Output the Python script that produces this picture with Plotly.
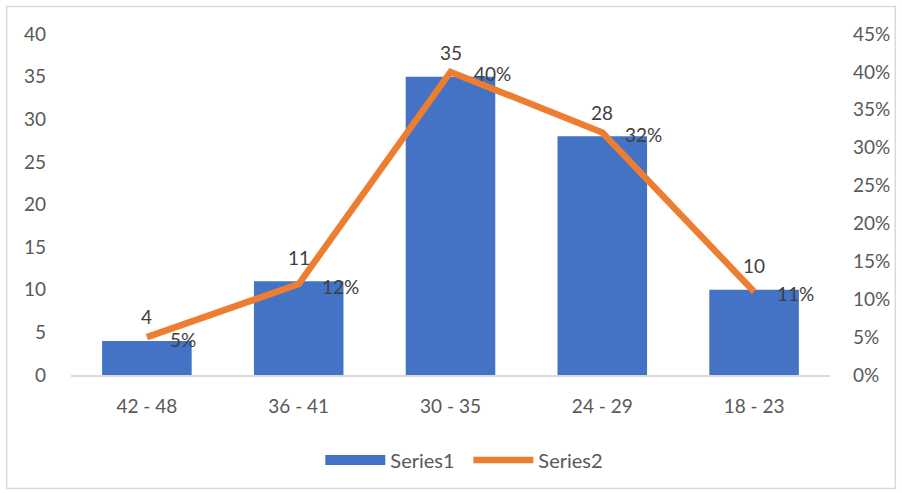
import plotly.graph_objects as go

categories = ["42 - 48", "36 - 41", "30 - 35", "24 - 29", "18 - 23"]
series1 = [4, 11, 35, 28, 10]
series2 = [0.05, 0.12, 0.40, 0.32, 0.11]
left_ticks = [0, 5, 10, 15, 20, 25, 30, 35, 40]
right_ticks = [0, 0.05, 0.10, 0.15, 0.20, 0.25, 0.30, 0.35, 0.40, 0.45]

FONT = "Lato"
TXT = "#595959"
LBL = "#404040"
BLUE = "#4472C4"
ORANGE = "#ED7D31"
FS = 19

fig = go.Figure()
fig.add_trace(go.Bar(
    x=categories, y=series1, name="Series1",
    marker=dict(color=BLUE, line=dict(width=0)),
    width=0.59, showlegend=False,
))
fig.add_trace(go.Scatter(
    x=categories, y=series2, name="Series2", yaxis="y2",
    mode="lines", line=dict(color=ORANGE, width=6.5),
    legendrank=2, cliponaxis=False,
))
# legend swatch for Series1 (wide rectangle as in the reference)
fig.add_trace(go.Scatter(
    x=[None], y=[None], name="Series1", mode="lines",
    line=dict(color=BLUE, width=14), legendrank=1,
))

annotations = []
for c, v in zip(categories, series1):
    annotations.append(dict(x=c, y=v, xref="x", yref="y", text=str(v), showarrow=False,
                            yanchor="middle", yshift=24,
                            font=dict(family=FONT, size=FS, color=LBL)))
for c, v in zip(categories, series2):
    annotations.append(dict(x=c, y=v, xref="x", yref="y2", text=f"{round(v*100)}%", showarrow=False,
                            xanchor="left", yanchor="middle", xshift=21, yshift=-2,
                            font=dict(family=FONT, size=FS, color=LBL)))

fig.update_layout(
    width=902, height=493,
    margin=dict(l=71, r=70, t=34, b=118),
    paper_bgcolor="white", plot_bgcolor="white",
    font=dict(family=FONT, size=FS, color=TXT),
    bargap=0.41,
    showlegend=True,
    legend=dict(orientation="h", x=(321 - 71) / 761, xanchor="left", y=-0.249, yanchor="middle",
                font=dict(family=FONT, size=20, color=TXT), itemwidth=60,
                entrywidth=73, entrywidthmode="pixels"),
    xaxis=dict(showline=True, linecolor="#d9d9d9", linewidth=1.5, showgrid=False,
               ticks="", ticklabelstandoff=13, zeroline=False),
    yaxis=dict(range=[0, 40], tickvals=left_ticks, showgrid=False, zeroline=False,
               showline=False, ticks="", ticklabelstandoff=24),
    yaxis2=dict(range=[0, 0.45], tickvals=right_ticks, tickformat=".0%", overlaying="y",
                side="right", showgrid=False, zeroline=False, showline=False, ticks="",
                ticklabelstandoff=22),
    annotations=annotations,
    shapes=[dict(type="rect", xref="paper", yref="paper",
                 x0=(6.5 - 71) / 761, x1=(897.5 - 71) / 761,
                 y0=(375 - 488.5) / 341, y1=(375 - 6.5) / 341,
                 line=dict(color="#d9d9d9", width=1.5), fillcolor="rgba(0,0,0,0)", layer="below")],
)

fig.write_html("out.html")
